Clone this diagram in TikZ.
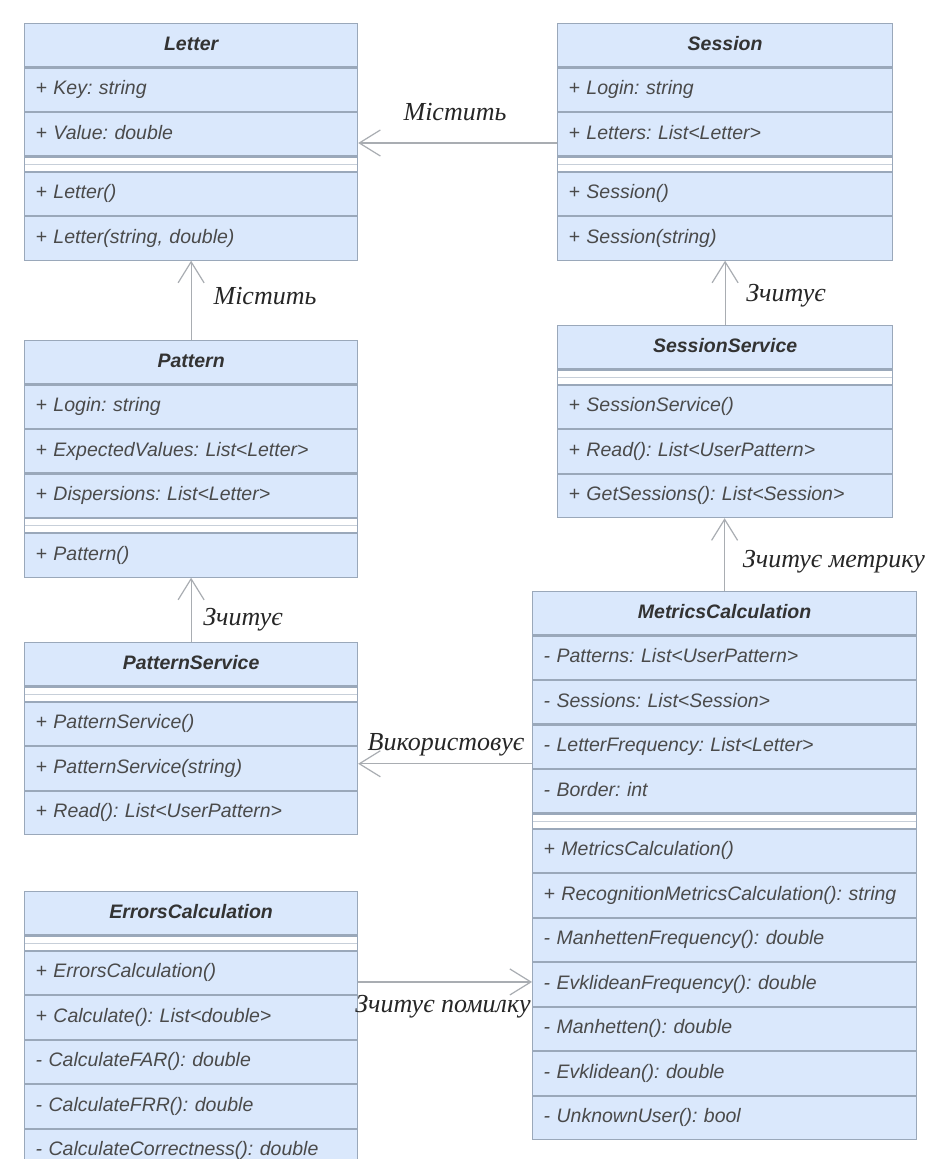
\documentclass[tikz,border=0pt]{standalone}
\usepackage{fontspec}
\setmainfont{Liberation Sans}
\newfontfamily\lblfont{Liberation Serif}
\usetikzlibrary{positioning,arrows.meta}
\usepackage{xcolor}
\definecolor{boxfill}{HTML}{DAE8FC}
\definecolor{boxline}{HTML}{9AA8BA}
\definecolor{membertext}{HTML}{4A4A4A}
\definecolor{linkgray}{HTML}{A9ADB2}
\frenchspacing

\begin{document}
\begin{tikzpicture}[x=1pt,y=-1pt,
  every node/.style={font=\fontsize{19.5}{22}\selectfont\itshape,inner sep=0pt},
  cls/.style={draw=boxline,fill=boxfill,line width=1.2pt,minimum width=#1,minimum height=43.3pt,
    anchor=north west,text=black!80,font=\fontsize{19.5}{22}\selectfont\bfseries\itshape,
    text height=14pt,text depth=4.5pt},
  member/.style={draw=boxline,fill=boxfill,line width=1.2pt,text width=#1,inner xsep=11pt,
    minimum height=43.3pt,align=left,text=membertext,text height=14pt,text depth=4.5pt},
  sep/.style={draw=boxline,fill=white,line width=1.2pt,minimum width=#1,minimum height=14pt,
    path picture={\draw[boxline!55,line width=1pt] (path picture bounding box.west) -- (path picture bounding box.east);}},
  assoc/.style={draw=linkgray,line width=1.2pt,-{Straight Barb[length=21pt,width=26pt,line width=1.2pt]}},
  lbl/.style={font=\lblfont\fontsize{26}{28}\selectfont\itshape,text=black!85}]
\useasboundingbox (0,0) rectangle (938,1159);
\fill[white] (0,0) rectangle (938,1159);

% Letter
\node[cls=333pt] (letHead) at (24,23) {Letter};
\node[member=311pt,below=0pt of letHead] (letA1) {+ Key: string};
\node[member=311pt,below=0pt of letA1] (letA2) {+ Value: double};
\node[sep=333pt,below=0pt of letA2] (letSep) {};
\node[member=311pt,below=0pt of letSep] (letM1) {+ Letter()};
\node[member=311pt,below=0pt of letM1] (letM2) {+ Letter(string, double)};

% Session
\node[cls=335pt] (sesHead) at (557,23) {Session};
\node[member=313pt,below=0pt of sesHead] (sesA1) {+ Login: string};
\node[member=313pt,below=0pt of sesA1] (sesA2) {+ Letters: List<Letter>};
\node[sep=335pt,below=0pt of sesA2] (sesSep) {};
\node[member=313pt,below=0pt of sesSep] (sesM1) {+ Session()};
\node[member=313pt,below=0pt of sesM1] (sesM2) {+ Session(string)};

% Pattern
\node[cls=333pt] (patHead) at (24,340) {Pattern};
\node[member=311pt,below=0pt of patHead] (patA1) {+ Login: string};
\node[member=311pt,below=0pt of patA1] (patA2) {+ ExpectedValues: List<Letter>};
\node[member=311pt,below=0pt of patA2] (patA3) {+ Dispersions: List<Letter>};
\node[sep=333pt,below=0pt of patA3] (patSep) {};
\node[member=311pt,below=0pt of patSep] (patM1) {+ Pattern()};

% SessionService
\node[cls=335pt] (ssHead) at (557,325) {SessionService};
\node[sep=335pt,below=0pt of ssHead] (ssSep) {};
\node[member=313pt,below=0pt of ssSep] (ssM1) {+ SessionService()};
\node[member=313pt,below=0pt of ssM1] (ssM2) {+ Read(): List<UserPattern>};
\node[member=313pt,below=0pt of ssM2] (ssM3) {+ GetSessions(): List<Session>};

% PatternService
\node[cls=333pt] (psHead) at (24,642) {PatternService};
\node[sep=333pt,below=0pt of psHead] (psSep) {};
\node[member=311pt,below=0pt of psSep] (psM1) {+ PatternService()};
\node[member=311pt,below=0pt of psM1] (psM2) {+ PatternService(string)};
\node[member=311pt,below=0pt of psM2] (psM3) {+ Read(): List<UserPattern>};

% ErrorsCalculation
\node[cls=333pt] (ecHead) at (24,891) {ErrorsCalculation};
\node[sep=333pt,below=0pt of ecHead] (ecSep) {};
\node[member=311pt,below=0pt of ecSep] (ecM1) {+ ErrorsCalculation()};
\node[member=311pt,below=0pt of ecM1] (ecM2) {+ Calculate(): List<double>};
\node[member=311pt,below=0pt of ecM2] (ecM3) {- CalculateFAR(): double};
\node[member=311pt,below=0pt of ecM3] (ecM4) {- CalculateFRR(): double};
\node[member=311pt,below=0pt of ecM4] (ecM5) {- CalculateCorrectness(): double};

% MetricsCalculation
\node[cls=384pt] (mcHead) at (532,591) {MetricsCalculation};
\node[member=362pt,below=0pt of mcHead] (mcA1) {- Patterns: List<UserPattern>};
\node[member=362pt,below=0pt of mcA1] (mcA2) {- Sessions: List<Session>};
\node[member=362pt,below=0pt of mcA2] (mcA3) {- LetterFrequency: List<Letter>};
\node[member=362pt,below=0pt of mcA3] (mcA4) {- Border: int};
\node[sep=384pt,below=0pt of mcA4] (mcSep) {};
\node[member=362pt,below=0pt of mcSep] (mcM1) {+ MetricsCalculation()};
\node[member=362pt,below=0pt of mcM1] (mcM2) {+ RecognitionMetricsCalculation(): string};
\node[member=362pt,below=0pt of mcM2] (mcM3) {- ManhettenFrequency(): double};
\node[member=362pt,below=0pt of mcM3] (mcM4) {- EvklideanFrequency(): double};
\node[member=362pt,below=0pt of mcM4] (mcM5) {- Manhetten(): double};
\node[member=362pt,below=0pt of mcM5] (mcM6) {- Evklidean(): double};
\node[member=362pt,below=0pt of mcM6] (mcM7) {- UnknownUser(): bool};

% links
\draw[assoc] ([yshift=-8.75pt]sesA2.west) -- ([yshift=-8.75pt]sesA2.west -| letA2.east);
\draw[assoc] (patHead.north) -- (letM2.south);
\draw[assoc] (ssHead.north) -- (sesM2.south);
\draw[assoc] (mcHead.north) -- (mcHead.north |- ssM3.south);
\draw[assoc] (psHead.north) -- (patM1.south);
\draw[assoc] ([yshift=-17pt]mcA3.west) -- ([yshift=-17pt]mcA3.west -| psM2.east);
\draw[assoc] ([yshift=-9pt]ecM1.east) -- ([yshift=-9pt]ecM1.east -| mcM4.west);

\node[lbl] (lblHas1) at (455,112) {Містить};
\node[lbl] (lblHas2) at (265,296) {Містить};
\node[lbl] (lblRead1) at (786,296) {Зчитує};
\node[lbl] (lblMetric) at (834,562) {Зчитує метрику};
\node[lbl] (lblRead2) at (243,620) {Зчитує};
\node[lbl] (lblUses) at (446,745) {Використовує};
\node[lbl] (lblError) at (443,1007) {Зчитує помилку};
\end{tikzpicture}
\end{document}
